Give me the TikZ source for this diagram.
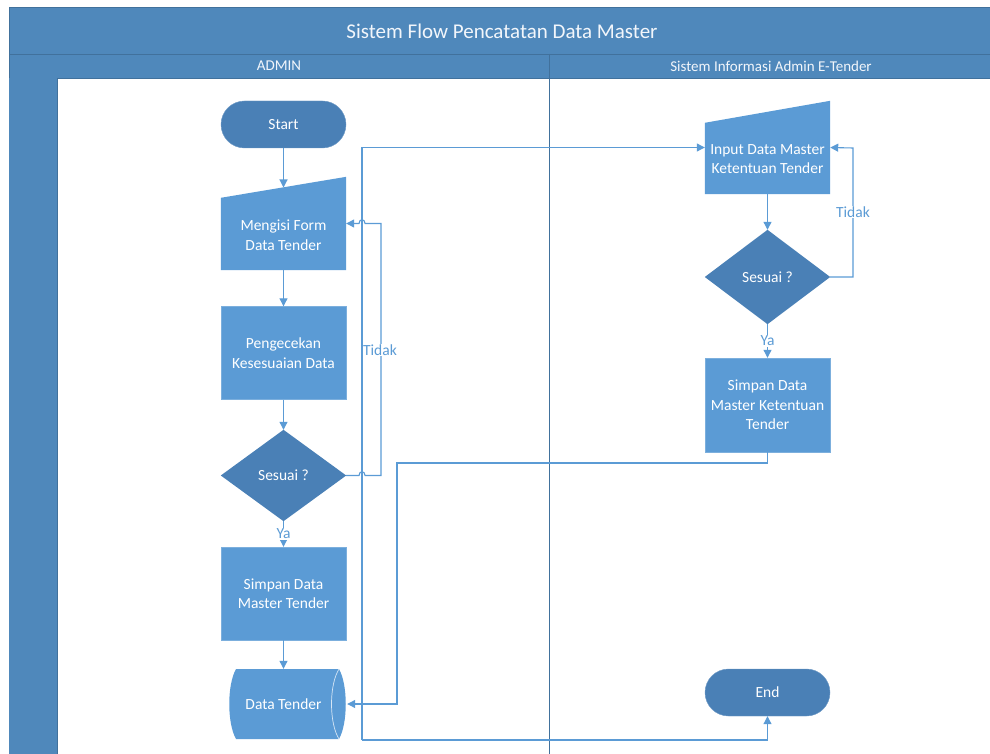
\documentclass[tikz,border=0pt]{standalone}
\usepackage{fontspec}
\setmainfont{Carlito}
\usetikzlibrary{arrows.meta,calc}
\definecolor{band}{HTML}{4F88BB}
\definecolor{bandline}{HTML}{41719C}
\definecolor{darknode}{HTML}{4A80B6}
\definecolor{lightnode}{HTML}{5B9BD5}
\definecolor{conn}{HTML}{5B9BD5}
\definecolor{lanetext}{HTML}{F2F6FB}
\tikzset{
  txt/.style={text=white, align=center, font=\fontsize{15.5}{19.5}\selectfont},
  box/.style={fill=lightnode, draw=lightnode!80!white, minimum width=125pt, minimum height=93pt, inner sep=0pt, txt},
  term/.style={fill=darknode, draw=darknode!80!white, rounded corners=23.5pt, minimum width=125pt, minimum height=47pt, inner sep=0pt, txt},
  ghost/.style={minimum width=125pt, inner sep=0pt},
  flow/.style={draw=conn, line width=1.1pt, -{Triangle[width=8pt,length=8pt]}},
  plain/.style={draw=conn, line width=1.1pt},
  lbl/.style={text=conn, font=\fontsize{15.5}{17}\selectfont, inner sep=1pt, fill=white},
}
\begin{document}
\begin{tikzpicture}[x=1pt,y=-1pt]
\useasboundingbox (0,0) rectangle (990,754);
% pool
\fill[band] (9,7) rectangle (991,78);
\draw[bandline, line width=0.6pt] (9,7) -- (991,7);
\draw[bandline, line width=0.6pt] (9,7) -- (9,754);
\draw[bandline, line width=0.6pt] (9,54) -- (991,54);
\draw[bandline, line width=0.6pt] (9,78) -- (991,78);
\fill[band] (9,78) rectangle (57,754);
\draw[bandline, line width=0.6pt] (57,78) -- (57,754);
\draw[bandline, line width=0.6pt] (549,54) -- (549,78);
\draw[bandline, line width=0.8pt] (549,78) -- (549,754);
\node[text=lanetext, font=\fontsize{21}{24}\selectfont] (title) at (502,31) {Sistem Flow Pencatatan Data Master};
\node[text=lanetext, font=\fontsize{15}{17}\selectfont] (laneA) at (279,66) {ADMIN};
\node[text=lanetext, font=\fontsize{15}{17}\selectfont] (laneB) at (771,66) {Sistem Informasi Admin E-Tender};

% ---- left lane ----
\node[term] (start) at (283.5,124.5) {Start};

\node[ghost, minimum height=93pt] (mf) at (283.5,223.5) {};
\fill[lightnode] (mf.south west) -- (mf.south east) -- (mf.north east) -- ($(mf.north west)+(0,21)$) -- cycle;
\node[txt] (mft) at (283.5,235) {Mengisi Form\\Data Tender};
\coordinate (mftop) at (283.5,187.5);

\node[box] (cek) at (283.5,353) {Pengecekan\\Kesesuaian Data};

\node[ghost, minimum height=91pt] (sd) at (283.5,475.5) {};
\fill[darknode] (sd.north) -- (sd.east) -- (sd.south) -- (sd.west) -- cycle;
\node[txt] (sdt) at (283.5,475.5) {Sesuai ?};

\node[box] (simpan) at (283.5,593.5) {Simpan Data\\Master Tender};

\node[ghost, minimum width=118pt, minimum height=70pt] (dt) at (288,704) {};
\fill[lightnode] (236,669) -- (339,669) .. controls (348,685) and (348,723) .. (339,739) -- (236,739) .. controls (227,723) and (227,685) .. (236,669) -- cycle;
\draw[white!75!lightnode, line width=0.7pt] (339,669) .. controls (329,685) and (329,723) .. (339,739);
\node[txt] (dtt) at (283.5,704) {Data Tender};

% ---- right lane ----
\node[ghost, minimum height=93pt] (inp) at (767.5,147.5) {};
\fill[lightnode] (inp.south west) -- (inp.south east) -- (inp.north east) -- ($(inp.north west)+(0,22)$) -- cycle;
\node[txt] (inpt) at (767.5,159) {Input Data Master\\Ketentuan Tender};

\node[ghost, minimum height=94pt] (sd2) at (767.5,277) {};
\fill[darknode] (sd2.north) -- (sd2.east) -- (sd2.south) -- (sd2.west) -- cycle;
\node[txt] (sd2t) at (767.5,277) {Sesuai ?};

\node[box, minimum height=94pt] (simpan2) at (767.5,405) {Simpan Data\\Master Ketentuan\\Tender};

\node[term] (end) at (767.5,692.5) {End};

% ---- connectors ----
\draw[flow] (start) -- (mftop);
\draw[flow] (mf.south) -- (cek.north);
\draw[flow] (cek.south) -- (sd.north);
\draw[flow] (sd.south) -- node[lbl, pos=0.5] (ya1) {Ya} (simpan.north);
\draw[flow] (simpan.south) -- (dt.north -| simpan.south);

\coordinate (t1) at (381,475.5);
\coordinate (t2) at (381,223.5);
\draw[flow] (sd.east) -- (359,475.5) .. controls (359,470.5) and (365,470.5) .. (365,475.5) -- (t1) -- (t2)
  -- (365,223.5) .. controls (365,218.5) and (359,218.5) .. (359,223.5) -- (mf.east);
\node[lbl] (tidak1) at (380,350) {Tidak};

\coordinate (c1) at (362,740);
\draw[flow] (c1) |- (inp.west);
\draw[flow] (c1) -| (end.south);

\coordinate (r1) at (397,463);
\draw[flow] (simpan2.south) |- (r1) |- (dt.east);

\draw[flow] (inp.south) -- (sd2.north);
\draw[flow] (sd2.east) -| (853,148) -- (inp.east);
\node[lbl] (tidak2) at (853,212) {Tidak};
\draw[flow] (sd2.south) -- node[lbl, pos=0.5] (ya2) {Ya} (simpan2.north);
\end{tikzpicture}
\end{document}
